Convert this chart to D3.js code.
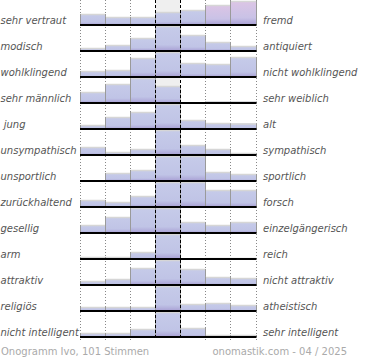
<!DOCTYPE html>
<html><head><meta charset="utf-8">
<script src="https://cdn.jsdelivr.net/npm/d3@7"></script>
<style>
html,body{margin:0;padding:0;background:#fff;}
svg{display:block;}
text{font-family:"DejaVu Sans",Verdana,sans-serif;}
</style></head>
<body>
<script>
const leftLabels = ["sehr vertraut","modisch","wohlklingend","sehr männlich"," jung","unsympathisch","unsportlich","zurückhaltend","gesellig","arm","attraktiv","religiös","nicht intelligent"];
const rightLabels = ["fremd","antiquiert","nicht wohlklingend","sehr weiblich","alt","sympathisch","sportlich","forsch","einzelgängerisch","reich","nicht attraktiv","atheistisch","sehr intelligent"];
const scaleSteps = [1,2,3,4,5,6,7];
// percent of votes per step
const values = [
  [11, 8, 8, 13, 15, 20, 24],
  [3, 6, 13, 48, 16, 9, 5],
  [6, 7, 19, 26, 14, 13, 20],
  [11, 19, 50, 17, 0, 1.5, 1.5],
  [4, 12, 17, 46, 9, 6, 5.5],
  [8, 3, 6, 65, 10, 6, 2],
  [0, 8, 11, 35, 30, 9, 7],
  [7, 5, 11, 26, 25, 17, 17],
  [8, 16, 27, 27, 11, 8, 11],
  [2, 2, 7, 87, 0, 1, 1],
  [4, 6, 17, 42, 16, 8, 7],
  [4, 4, 4, 67, 7, 8, 6],
  [4, 4, 8, 71, 9, 2, 2]
];
const footerLeft = "Onogramm Ivo, 101 Stimmen";
const footerRight = "onomastik.com - 04 / 2025";

const W = 370, H = 360;
const svg = d3.select("body").append("svg").attr("width", W).attr("height", H);
const defs = svg.append("defs");
const g1 = defs.append("linearGradient").attr("id","gBlue").attr("x1",0).attr("y1",0).attr("x2",0).attr("y2",1);
g1.append("stop").attr("offset","0%").attr("stop-color","#c6cbe9");
g1.append("stop").attr("offset","75%").attr("stop-color","#c0c4e6");
g1.append("stop").attr("offset","100%").attr("stop-color","#a89fd4");
const g2 = defs.append("linearGradient").attr("id","gPink").attr("x1",0).attr("y1",0).attr("x2",0).attr("y2",1);
g2.append("stop").attr("offset","0%").attr("stop-color","#dcc5e5");
g2.append("stop").attr("offset","70%").attr("stop-color","#c9c2e6");
g2.append("stop").attr("offset","100%").attr("stop-color","#a89fd4");

const x = d3.scaleBand().domain(scaleSteps).range([80, 255.5]).padding(0);
const rowY = d3.scaleBand().domain(d3.range(leftLabels.length)).range([0, 338]).padding(0);
const h = d3.scaleLinear().domain([0, 25]).range([0, 25]).clamp(true);
const base = i => rowY(i) + 25;
const plotTop = 0, plotBottom = base(leftLabels.length - 1) + 1;

// middle column background
svg.append("rect").attr("x", x(4)).attr("y", plotTop).attr("width", x.bandwidth()).attr("height", plotBottom - plotTop).attr("fill", "#efefef");

// dotted grid lines
const bounds = scaleSteps.map(s => x(s)).concat([x(7) + x.bandwidth()]);
svg.selectAll("line.grid").data(bounds.filter((b, k) => k !== 3 && k !== 4)).enter().append("line")
  .attr("x1", d => Math.round(d) + 0.5).attr("x2", d => Math.round(d) + 0.5)
  .attr("y1", plotTop).attr("y2", plotBottom + 2)
  .attr("stroke", "#888").attr("stroke-width", 1).attr("stroke-dasharray", "1,2");

// bars
values.forEach((row, i) => {
  const gr = svg.append("g");
  row.forEach((v, j) => {
    const hh = h(v);
    if (hh <= 0) return;
    const x0 = Math.round(x(scaleSteps[j])) + 0.5, x1 = Math.round(x(scaleSteps[j]) + x.bandwidth()) + 0.5;
    const y0 = base(i) - hh;
    const tint = (i === 0 && j >= 5) ? "url(#gPink)" : "url(#gBlue)";
    gr.append("rect").attr("x", x0).attr("y", y0).attr("width", x1 - x0).attr("height", hh).attr("fill", tint);
    gr.append("line").attr("x1", x0).attr("x2", x1).attr("y1", y0 + 0.5).attr("y2", y0 + 0.5).attr("stroke", "#d6d6d6").attr("stroke-width", 1.5);
    gr.append("line").attr("x1", x0).attr("x2", x0).attr("y1", y0).attr("y2", base(i)).attr("stroke", "#9a9a9a").attr("stroke-width", 1);
    gr.append("line").attr("x1", x1).attr("x2", x1).attr("y1", y0).attr("y2", base(i)).attr("stroke", "#9a9a9a").attr("stroke-width", 1);
  });
});

// dashed middle lines
svg.selectAll("line.mid").data([bounds[3], bounds[4]]).enter().append("line")
  .attr("x1", d => Math.round(d) + 0.5).attr("x2", d => Math.round(d) + 0.5)
  .attr("y1", plotTop).attr("y2", plotBottom + 2)
  .attr("stroke", "#000").attr("stroke-width", 1).attr("stroke-dasharray", "3,2");

// baselines
svg.selectAll("line.base").data(d3.range(leftLabels.length)).enter().append("line")
  .attr("x1", x(1)).attr("x2", x(7) + x.bandwidth() + 1)
  .attr("y1", d => base(d)).attr("y2", d => base(d))
  .attr("stroke", "#000").attr("stroke-width", 2);

// labels
svg.selectAll("text.left").data(leftLabels).enter().append("text")
  .attr("x", 0.5).attr("y", (d, i) => base(i) - 1.5)
  .attr("font-size", 10).attr("font-style", "italic").attr("fill", "#555")
  .style("white-space", "pre").text(d => d);
svg.selectAll("text.right").data(rightLabels).enter().append("text")
  .attr("x", 263).attr("y", (d, i) => base(i) - 1.5)
  .attr("font-size", 10).attr("font-style", "italic").attr("fill", "#555")
  .text(d => d);

svg.append("text").attr("x", 1).attr("y", 355).attr("font-size", 10).attr("fill", "#aaa").text(footerLeft);
svg.append("text").attr("x", 347).attr("y", 355).attr("text-anchor", "end").attr("font-size", 10).attr("fill", "#aaa").text(footerRight);
</script>
</body></html>
